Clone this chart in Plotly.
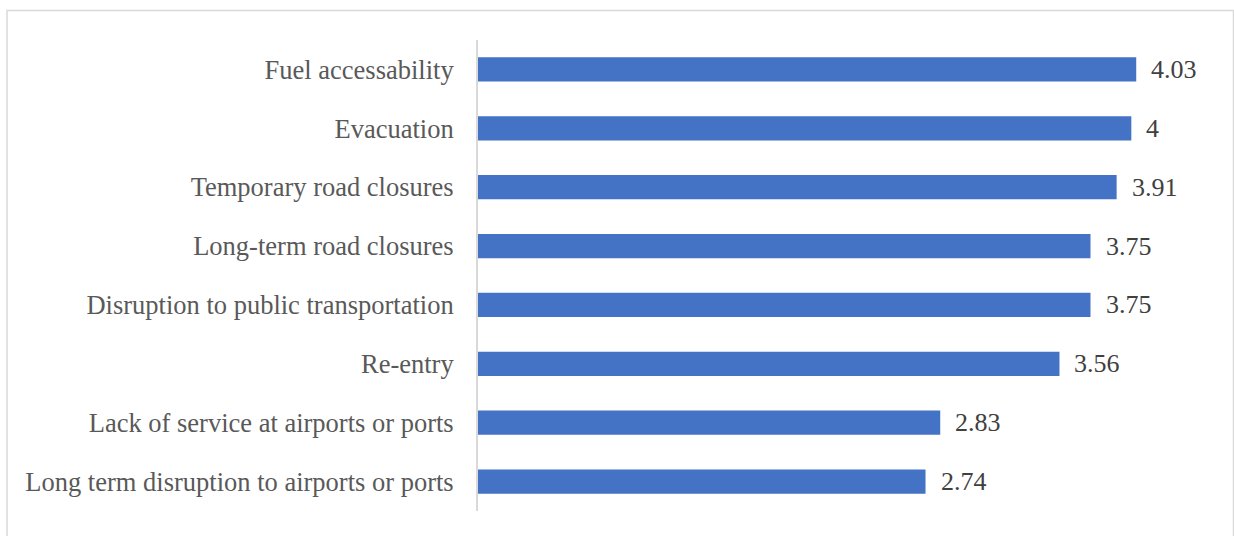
import plotly.graph_objects as go

categories = [
    "Fuel accessability",
    "Evacuation",
    "Temporary road closures",
    "Long-term road closures",
    "Disruption to public transportation",
    "Re-entry",
    "Lack of service at airports or ports",
    "Long term disruption to airports or ports",
]
values = [4.03, 4, 3.91, 3.75, 3.75, 3.56, 2.83, 2.74]
value_labels = ["4.03", "4", "3.91", "3.75", "3.75", "3.56", "2.83", "2.74"]

cats_plot = categories[::-1]
vals_plot = values[::-1]
labs_plot = value_labels[::-1]

FONT = "Liberation Serif, Times New Roman, serif"

fig = go.Figure()
fig.add_trace(go.Bar(
    x=vals_plot, y=cats_plot, orientation="h",
    marker=dict(color="#4472C4", line=dict(width=0)),
    hoverinfo="skip",
))

annotations = []
for c, v, t in zip(cats_plot, vals_plot, labs_plot):
    annotations.append(dict(
        x=v, y=c, xref="x", yref="y", text=t, showarrow=False,
        xanchor="left", yanchor="middle", xshift=13,
        font=dict(family=FONT, size=26, color="#404040"),
    ))

W, H = 1234, 536
L, R, T, B = 478, 21, 40, 25
pw, ph = W - L - R, H - T - B

def px_x(p):
    return (p - L) / pw

def px_y(p):
    return (H - B - p) / ph

fig.update_layout(
    width=W, height=H,
    margin=dict(l=L, r=R, t=T, b=B),
    paper_bgcolor="white", plot_bgcolor="white",
    bargap=0.59,
    showlegend=False,
    annotations=annotations,
    font=dict(family=FONT, size=26, color="#595959"),
    xaxis=dict(range=[0, 4.5], visible=False, showgrid=False, zeroline=False),
    yaxis=dict(
        showline=True, linecolor="#d9d9d9", linewidth=2,
        showgrid=False, zeroline=False, ticks="",
        ticklabelstandoff=17,
        tickfont=dict(family=FONT, size=26.5, color="#595959"),
    ),
    shapes=[dict(
        type="rect", xref="paper", yref="paper",
        x0=px_x(7), x1=px_x(1233.5), y0=px_y(545), y1=px_y(10.5),
        line=dict(color="#d9d9d9", width=1.5), fillcolor="rgba(0,0,0,0)",
        layer="below",
    )],
)

fig.write_html("out.html")
